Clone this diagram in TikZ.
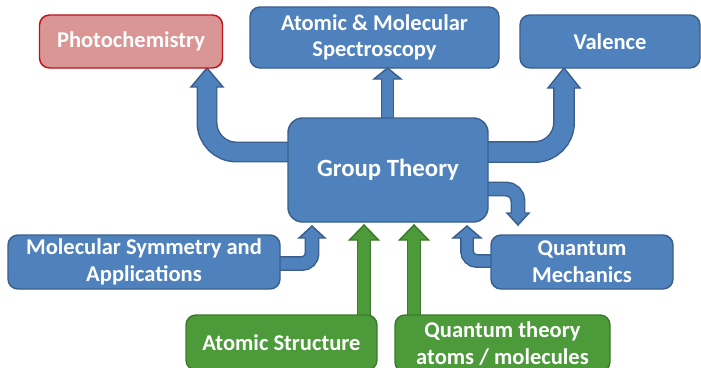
\documentclass[tikz,border=0pt]{standalone}
\usepackage{fontspec}
\setmainfont{Carlito}
\usetikzlibrary{backgrounds}
\definecolor{bfill}{HTML}{4F81BD}
\definecolor{bline}{HTML}{3A5F8C}
\definecolor{gfill}{HTML}{4C9A3A}
\definecolor{gline}{HTML}{3A7A2A}
\definecolor{pfill}{HTML}{D99694}
\definecolor{pline}{HTML}{C0101A}
\tikzset{
  box/.style={rectangle, rounded corners=7.5pt, draw, line width=1.1pt,
    text=white, font=\bfseries\fontsize{16.9}{20}\selectfont, align=center, inner sep=0pt},
  bluebox/.style={box, fill=bfill, draw=bline},
  greenbox/.style={box, fill=gfill, draw=gline},
  pinkbox/.style={box, fill=pfill, draw=pline},
  bshb/.style={draw=bline},
  bshf/.style={draw=bfill},
  bhead/.style={fill=bfill, draw=bline, line width=1.1pt, line join=miter},
  gshb/.style={draw=gline},
  gshf/.style={draw=gfill},
  ghead/.style={fill=gfill, draw=gline, line width=1.1pt, line join=miter}
}
\begin{document}
\begin{tikzpicture}[x=0.75pt,y=-0.75pt]
\useasboundingbox (0,0) rectangle (701,368);
% nodes
\node[pinkbox, minimum width=137.25pt, minimum height=39.75pt] (photo) at (131,41.5) {Photochemistry};
\node[bluebox, minimum width=186.75pt, minimum height=45.75pt] (spec) at (374.5,37.5) {Atomic \& Molecular\\Spectroscopy};
\node[bluebox, minimum width=135pt, minimum height=39.75pt] (val) at (610,41.5) {Valence};
\node[bluebox, rounded corners=11pt, minimum width=150pt, minimum height=78pt,
      font=\bfseries\fontsize{18.6}{22}\selectfont] (gt) at (388,170) {Group Theory};
\node[bluebox, minimum width=204pt, minimum height=40.5pt] (molsym) at (144,262) {Molecular Symmetry and\\Applications};
\node[bluebox, minimum width=136.5pt, minimum height=40.5pt] (qm) at (582,262) {Quantum\\Mechanics};
\node[greenbox, minimum width=143.25pt, minimum height=41.25pt] (atom) at (281.5,342.5) {Atomic Structure};
\node[greenbox, minimum width=161.25pt, minimum height=42.75pt] (qth) at (502.5,343.5) {Quantum theory\\atoms / molecules};
% named coordinates for the arrows
\coordinate (a1s) at (300,152); \coordinate (a1b) at (207,152);
\coordinate (a3s) at (475,152); \coordinate (a3b) at (564,152);
\coordinate (a4s) at (475,189); \coordinate (a4b) at (518,189);
\coordinate (a5s) at (505,261); \coordinate (a5b) at (467,261);
\coordinate (a6s) at (270,263.5); \coordinate (a6b) at (312,263.5);
\begin{scope}[on background layer]
\fill[white] (0,0) rectangle (701,368);
% Group Theory -> Photochemistry
\draw[bshb, line width=15.7pt, rounded corners=22pt] (a1s) -- (a1b) -- (207,87);
\filldraw[bhead] (191,87) -- (207,68) -- (223,87) -- cycle;
\draw[bshf, line width=13.5pt, rounded corners=22pt] (a1s) -- (a1b) -- (207,85);
% Group Theory -> Spectroscopy
\draw[bshb, line width=10.45pt] (gt.north -| 387.5,0) ++(0,12) -- (387.5,79);
\filldraw[bhead] (374,79) -- (387.5,68) -- (401,79) -- cycle;
\draw[bshf, line width=8.25pt] (gt.north -| 387.5,0) ++(0,12) -- (387.5,77);
% Group Theory -> Valence
\draw[bshb, line width=16.45pt, rounded corners=22pt] (a3s) -- (a3b) -- (564,88);
\filldraw[bhead] (548,88) -- (564,68) -- (580,88) -- cycle;
\draw[bshf, line width=14.25pt, rounded corners=22pt] (a3s) -- (a3b) -- (564,86);
% Group Theory -> Quantum Mechanics
\draw[bshb, line width=11.2pt, rounded corners=9pt] (a4s) -- (a4b) -- (518,213);
\filldraw[bhead] (507,213) -- (518,225) -- (529,213) -- cycle;
\draw[bshf, line width=9pt, rounded corners=9pt] (a4s) -- (a4b) -- (518,215);
% Quantum Mechanics -> Group Theory
\draw[bshb, line width=10.45pt, rounded corners=7.5pt] (a5s) -- (a5b) -- (467,238);
\filldraw[bhead] (453,238) -- (467,226) -- (481,238) -- cycle;
\draw[bshf, line width=8.25pt, rounded corners=7.5pt] (a5s) -- (a5b) -- (467,236);
% Molecular Symmetry -> Group Theory
\draw[bshb, line width=11.2pt, rounded corners=7.5pt] (a6s) -- (a6b) -- (312,238);
\filldraw[bhead] (299,238) -- (312,226) -- (325,238) -- cycle;
\draw[bshf, line width=9pt, rounded corners=7.5pt] (a6s) -- (a6b) -- (312,236);
% Atomic Structure -> Group Theory
\draw[gshb, line width=11.2pt] (atom.north -| 364,0) ++(0,10) -- (364,240);
\filldraw[ghead] (349.5,240) -- (364,225) -- (378.5,240) -- cycle;
\draw[gshf, line width=9pt] (atom.north -| 364,0) ++(0,10) -- (364,238);
% Quantum theory -> Group Theory
\draw[gshb, line width=11.2pt] (qth.north -| 414,0) ++(0,10) -- (414,240);
\filldraw[ghead] (399.5,240) -- (414,225) -- (428.5,240) -- cycle;
\draw[gshf, line width=9pt] (qth.north -| 414,0) ++(0,10) -- (414,238);
\end{scope}
\end{tikzpicture}
\end{document}
